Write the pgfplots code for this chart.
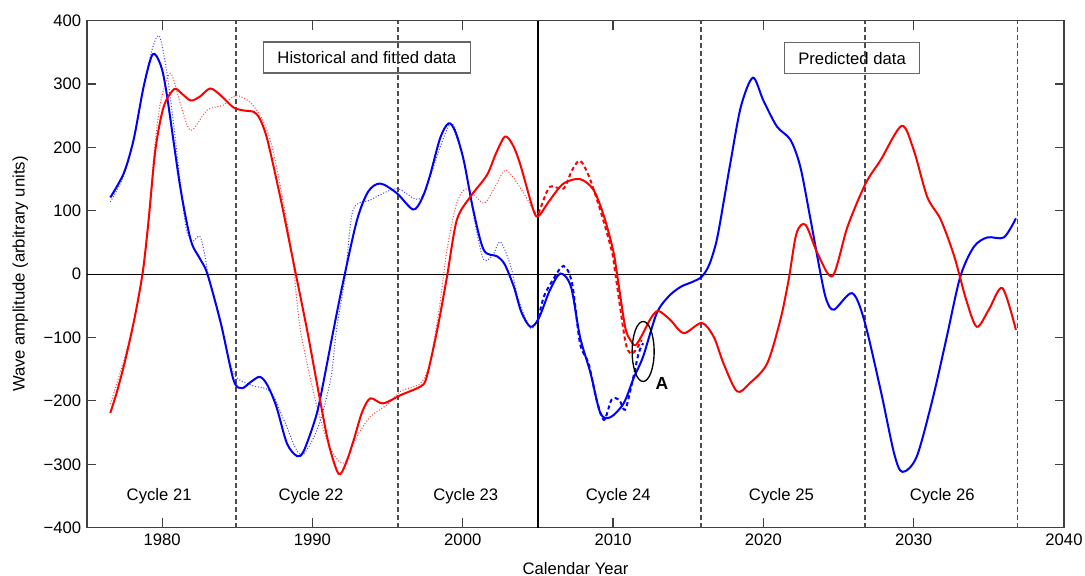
\documentclass[border=0pt]{standalone}
\usepackage{fontspec}
\setmainfont{Liberation Sans}
\usepackage{pgfplots}
\pgfplotsset{compat=1.18}
\definecolor{mblue}{RGB}{0,0,255}
\definecolor{mred}{RGB}{255,0,0}
\begin{document}
\begin{tikzpicture}
\useasboundingbox (-52.2pt,-28.8pt) rectangle (598.8pt,316.6pt);
\begin{axis}[
  at={(0,0)}, anchor=south west,
  width=586.2pt, height=304.2pt, scale only axis,
  xmin=1975, xmax=2040, ymin=-400, ymax=400,
  xtick={1980,1990,2000,2010,2020,2030,2040},
  xticklabels={1980,1990,2000,2010,2020,2030,2040},
  ytick={-400,-300,-200,-100,0,100,200,300,400},
  yticklabels={−400,−300,−200,−100,0,100,200,300,400},
  tick align=inside, major tick length=5.5pt,
  axis line style={black!75, line width=0.8pt},
  tick style={black!75, line width=0.7pt},
  tick label style={font=\fontsize{10}{12}\selectfont},
  label style={font=\fontsize{10}{12}\selectfont},
  xlabel={Calendar Year}, ylabel={Wave amplitude (arbitrary units)},
  xlabel style={at={(axis description cs:0.5,-0.0805)}, anchor=center},
  ylabel style={at={(axis description cs:-0.0682,0.5)}, anchor=center},
]
% boxes
\node[draw=black!60, line width=0.7pt, fill=white, minimum width=124pt, minimum height=18.6pt, inner sep=0pt, font=\fontsize{10}{12}\selectfont] at (axis cs:1993.62,341.8) {Historical and fitted data};
\node[draw=black!60, line width=0.7pt, fill=white, minimum width=81pt, minimum height=18.6pt, inner sep=0pt, font=\fontsize{10}{12}\selectfont] at (axis cs:2025.9,341) {Predicted data};
% reference lines
\draw[black, line width=0.6pt] (axis cs:1975,0) -- (axis cs:2040,0);
\draw[black, line width=0.9pt] (axis cs:2005.0,-400) -- (axis cs:2005.0,400);
\foreach \xx in {1984.9,1995.7,2015.85,2026.75,2036.9} {
  \edef\temp{\noexpand\draw[black!70, line width=0.85pt, dash pattern=on 2.8pt off 2.0pt] (axis cs:\xx,-400) -- (axis cs:\xx,400);}
  \temp
}
% dotted historical data
\addplot[mblue!75, line width=0.6pt, dash pattern=on 0.6pt off 1.1pt, smooth] coordinates {
(1976.55,114)(1977.44,155)(1978.1,212)(1978.8,300)(1979.4,360)(1979.83,375)(1980.3,320)(1980.8,230)(1981.2,145)(1981.6,72)(1982.0,52)(1982.5,60)(1982.8,35)(1983.1,-5)(1983.9,-80)(1984.75,-156)(1985.9,-175)(1987.2,-185)(1988.1,-230)(1989.2,-285)(1990.3,-246)(1991.2,-167)(1991.6,-88)(1992.2,0)(1992.7,101)(1993.85,117)(1995.6,135)(1997.2,120)(1998.5,201)(1999.2,238)(1999.7,215)(2000.3,150)(2000.9,70)(2001.4,23)(2002.0,30)(2002.5,51)(2003.2,12)(2003.7,-40)(2004.5,-85)(2005.0,-72)};
\addplot[mred!75, line width=0.6pt, dash pattern=on 0.6pt off 1.1pt, smooth] coordinates {
(1976.55,-205)(1977.4,-140)(1978.1,-75)(1978.7,0)(1979.2,120)(1979.5,200)(1979.9,272)(1980.55,317)(1981.2,270)(1981.9,227)(1983.0,259)(1984.1,267)(1984.9,282)(1985.9,270)(1986.75,240)(1987.4,193)(1988.2,95)(1988.7,20)(1989.2,-88)(1990.3,-209)(1991.2,-275)(1992.1,-298)(1992.96,-256)(1993.85,-225)(1994.96,-206)(1995.85,-185)(1997.2,-172)(1997.8,-140)(1998.4,-60)(1998.95,38)(1999.6,112)(2000.3,135)(2001.4,112)(2002.2,140)(2002.9,164)(2004.05,128)(2004.7,101)(2005.0,96)};
% dashed 2005-2012
\addplot[mblue, line width=1.2pt, dash pattern=on 2.4pt off 1.8pt, smooth] coordinates {
(2005.05,-68)(2005.4,-35)(2006.0,-9)(2006.7,13)(2007.27,-14)(2007.8,-109)(2008.37,-141)(2008.9,-198)(2009.4,-230)(2009.9,-198)(2010.4,-198)(2010.8,-214)(2011.26,-172)(2011.7,-125)(2012.0,-109)};
\addplot[mred, line width=1.2pt, dash pattern=on 2.4pt off 1.8pt, smooth] coordinates {
(2005.05,96)(2005.2,106)(2005.8,138)(2006.7,135)(2007.27,164)(2007.8,179)(2008.4,154)(2009.15,101)(2009.9,38)(2010.15,1)(2010.8,-104)(2011.15,-125)(2011.5,-120)(2011.9,-104)};
% solid fitted / predicted
\addplot[mblue, line width=1.2pt, smooth] coordinates {
(1976.55,121)(1977.44,159)(1978.1,212)(1978.77,296)(1979.37,347)(1979.9,330)(1980.3,285)(1981.2,138)(1981.9,54)(1982.5,25)(1983.0,1)(1983.9,-77)(1984.75,-167)(1985.3,-180)(1985.9,-170)(1986.5,-162)(1987.0,-175)(1987.6,-209)(1988.3,-267)(1988.97,-287)(1989.4,-280)(1990.1,-235)(1990.5,-198)(1991.4,-88)(1992.07,-9)(1992.96,85)(1993.7,130)(1994.5,143)(1995.6,128)(1996.7,102)(1997.3,120)(1997.8,154)(1998.5,215)(1999.06,238)(1999.5,225)(2000.06,180)(2000.7,101)(2001.4,38)(2002.3,28)(2002.8,15)(2003.4,-20)(2003.9,-60)(2004.5,-83)(2005.05,-70)(2005.8,-25)(2006.5,1)(2007.2,-20)(2007.8,-99)(2008.5,-156)(2009.15,-219)(2009.8,-226)(2010.7,-204)(2011.4,-162)(2012.0,-130)(2012.9,-62)(2013.7,-35)(2014.5,-20)(2015.3,-12)(2015.9,-4)(2016.4,15)(2016.9,54)(2017.4,120)(2017.8,175)(2018.5,264)(2019.3,310)(2020.0,274)(2020.9,233)(2021.8,212)(2022.45,170)(2023.1,91)(2023.8,1)(2024.2,-41)(2024.7,-56)(2025.9,-30)(2026.7,-72)(2027.8,-183)(2028.7,-283)(2029.25,-312)(2030.2,-288)(2031.3,-193)(2032.2,-99)(2033.1,-4)(2034.0,43)(2034.9,58)(2036.0,58)(2036.8,88)};
\addplot[mred, line width=1.2pt, smooth] coordinates {
(1976.55,-219)(1977.0,-185)(1977.5,-140)(1978.0,-88)(1978.4,-40)(1978.75,10)(1979.1,85)(1979.55,196)(1980.1,264)(1980.8,292)(1981.3,285)(1981.9,274)(1982.5,280)(1983.2,293)(1983.9,282)(1984.75,263)(1985.5,258)(1986.1,256)(1986.5,245)(1987.0,212)(1987.9,117)(1988.75,17)(1989.64,-88)(1990.5,-198)(1991.1,-270)(1991.74,-315)(1992.2,-300)(1992.74,-262)(1993.3,-218)(1993.85,-196)(1994.7,-204)(1995.85,-191)(1997.2,-177)(1997.6,-162)(1998.3,-88)(1998.95,-4)(1999.6,85)(2000.5,122)(2001.6,156)(2002.2,190)(2002.8,217)(2003.3,205)(2003.8,175)(2004.7,101)(2005.05,92)(2005.8,117)(2006.7,143)(2007.8,150)(2008.7,133)(2009.4,91)(2010.0,38)(2010.26,1)(2010.8,-83)(2011.15,-104)(2011.5,-112)(2012.0,-93)(2012.5,-70)(2013.0,-58)(2013.8,-72)(2014.7,-93)(2015.9,-77)(2016.7,-99)(2017.35,-141)(2018.25,-185)(2019.1,-172)(2020.25,-141)(2021.13,-72)(2021.68,-9)(2022.2,64)(2022.8,78)(2023.6,33)(2024.6,-3)(2025.6,75)(2026.8,143)(2027.8,180)(2029.2,234)(2030.0,196)(2030.9,122)(2031.8,86)(2032.7,28)(2033.5,-41)(2034.2,-83)(2035.0,-56)(2035.9,-22)(2036.8,-88)};
% ellipse and label A
\draw[black, line width=0.8pt] (axis cs:2012.0,-122) ellipse [x radius=6.6pt, y radius=18pt];
\node[font=\bfseries\fontsize{10.5}{12}\selectfont] at (axis cs:2013.25,-172) {A};
% cycle labels
\foreach \xx/\lab in {1979.8/21,1989.9/22,2000.2/23,2010.35/24,2021.2/25,2031.9/26} {
  \edef\temp{\noexpand\node[font=\noexpand\fontsize{10}{12}\noexpand\selectfont] at (axis cs:\xx,-350) {Cycle \lab};}
  \temp
}
\end{axis}
\end{tikzpicture}
\end{document}
